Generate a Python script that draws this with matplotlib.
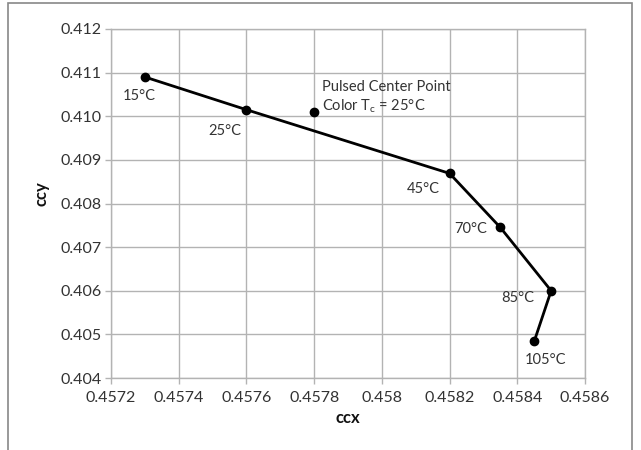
import matplotlib
matplotlib.use("Agg")
import matplotlib.pyplot as plt
from matplotlib.patches import Rectangle

# temperature sweep (ccx, ccy)
temps = ["15°C", "25°C", "45°C", "70°C", "85°C", "105°C"]
ccx = [0.4573, 0.4576, 0.4582, 0.45835, 0.4585, 0.45845]
ccy = [0.41090, 0.41015, 0.40869, 0.40745, 0.40600, 0.40484]

# pulsed center point
pulsed_x = 0.4578
pulsed_y = 0.41009

# label offsets in pixels (dx, dy)
offsets = [(-6, -19), (-22, -21), (-26, -16), (-30, -2), (-33, -7), (11, -19)]

plt.rcParams["font.family"] = ["Lato", "DejaVu Sans"]
grey = "#b3b3b3"
txt = "#333333"

fig = plt.figure(figsize=(6.41, 4.5), dpi=100)
ax = fig.add_axes([111 / 641, 1 - 378 / 450, 474 / 641, 349 / 450])

ax.plot(ccx, ccy, color="black", lw=2, marker="o", ms=6, zorder=3)
ax.plot([pulsed_x], [pulsed_y], "o", color="black", ms=6, zorder=3)

for t, x, y, (dx, dy) in zip(temps, ccx, ccy, offsets):
    ax.annotate(t, (x, y), xytext=(dx, dy), textcoords="offset pixels",
                ha="center", va="center", fontsize=10.5, color=txt)

ax.annotate("Pulsed Center Point\nColor T$_\\mathregular{c}$ = 25°C", (pulsed_x, pulsed_y),
            xytext=(8, 15), textcoords="offset pixels", ha="left", va="center",
            fontsize=10.5, color=txt, linespacing=1.25)

ax.set_xlim(0.4572, 0.4586)
ax.set_ylim(0.404, 0.412)
ax.set_xticks([0.4572 + 0.0002 * i for i in range(8)])
ax.set_xticklabels(["0.4572", "0.4574", "0.4576", "0.4578", "0.458", "0.4582", "0.4584", "0.4586"])
ax.set_yticks([0.404 + 0.001 * i for i in range(9)])
ax.set_yticklabels(["0.404", "0.405", "0.406", "0.407", "0.408", "0.409", "0.410", "0.411", "0.412"])
ax.grid(True, color=grey, lw=1)
ax.set_axisbelow(True)
for s in ax.spines.values():
    s.set_color(grey)
    s.set_linewidth(1)
ax.tick_params(colors=grey, labelcolor=txt, labelsize=11.5, length=4, width=1)
ax.tick_params(axis="y", pad=3)
ax.tick_params(axis="x", pad=5)

ax.set_xlabel("ccx", fontsize=12, fontweight="bold", color="#111111")
ax.set_ylabel("ccy", fontsize=12, fontweight="bold", color="#111111")
ax.xaxis.set_label_coords((348 - 111) / 474, -(410 - 378) / 349)
ax.yaxis.set_label_coords(-(111 - 49) / 474, (378 - 194) / 349)

# outer chart border
fig.patches.append(Rectangle((8 / 641, -0.1), 624 / 641, 1.1 - 3 / 450,
                             transform=fig.transFigure, fill=False,
                             edgecolor="#888888", lw=1.2, clip_on=False))

fig.savefig("out.png", dpi=100)
